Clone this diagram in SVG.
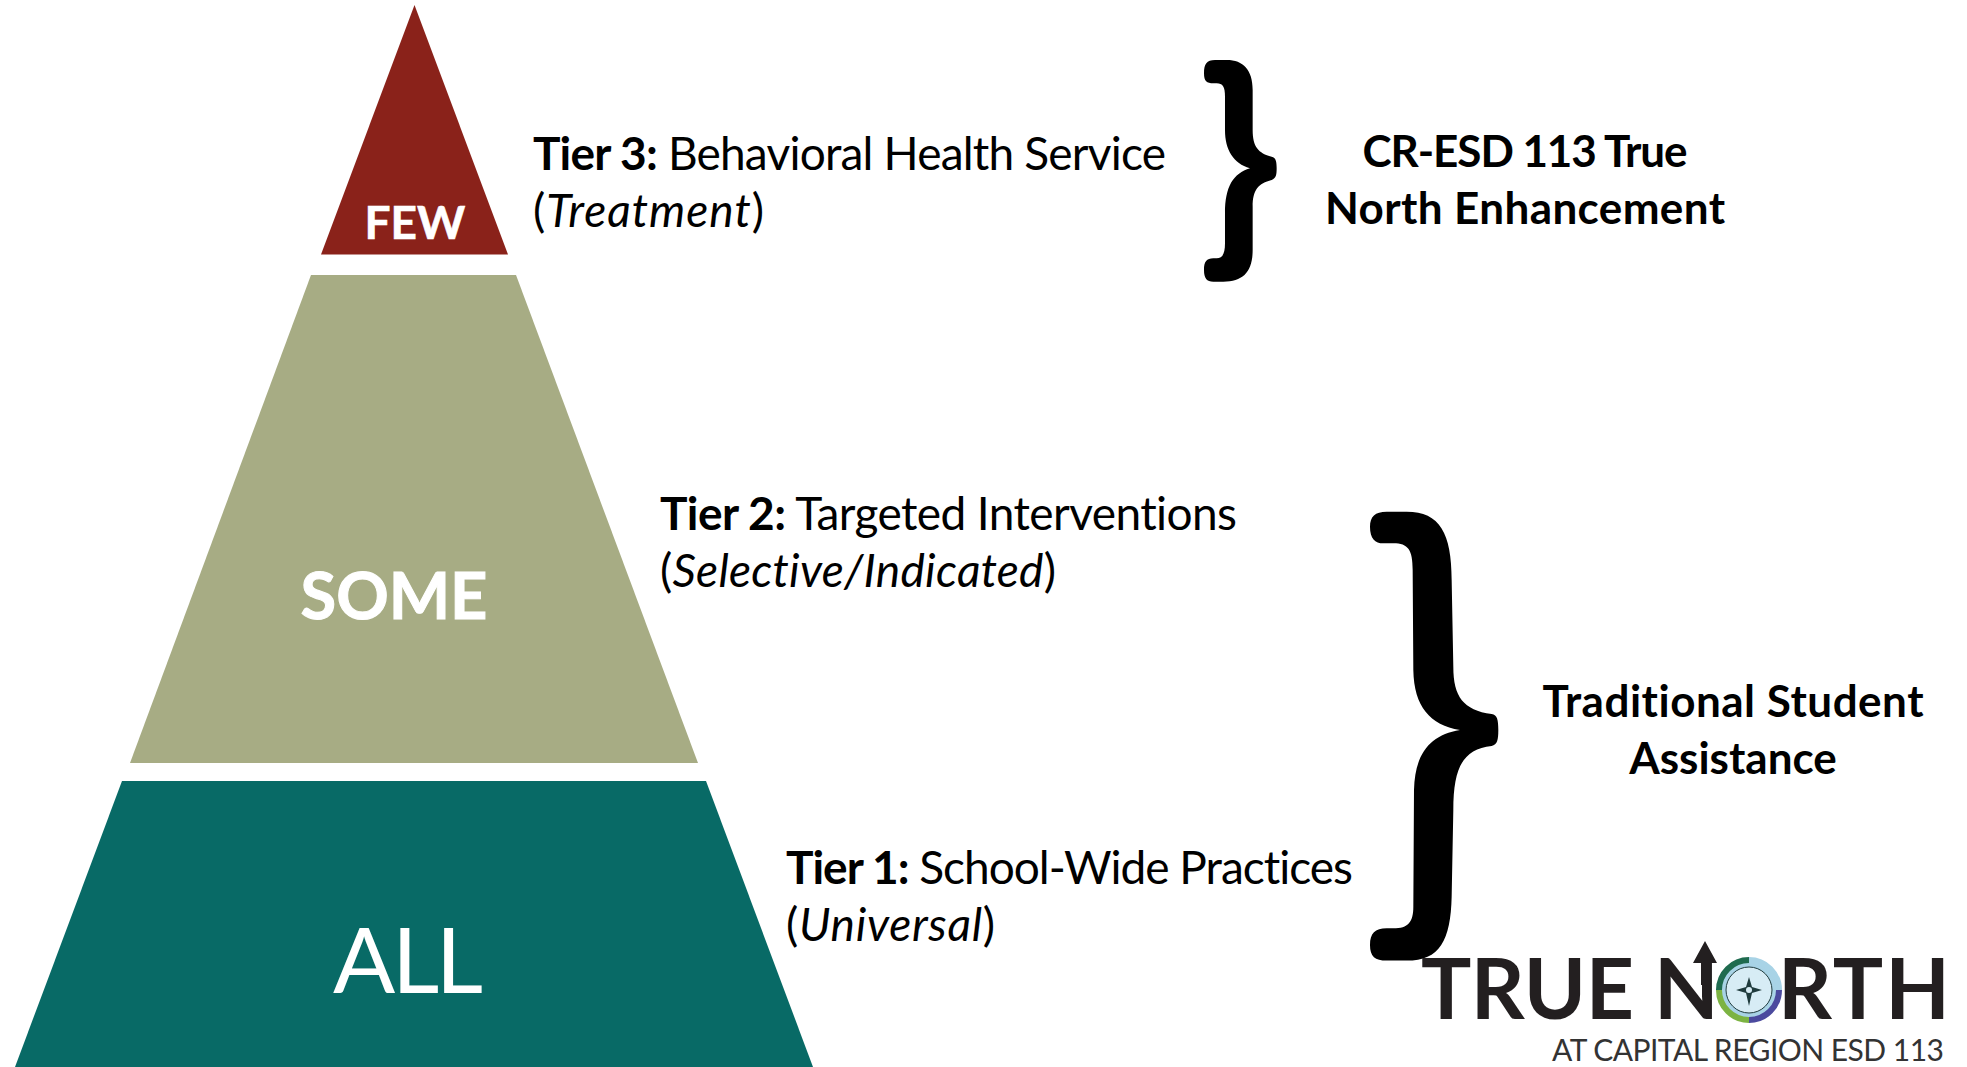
<svg xmlns="http://www.w3.org/2000/svg" width="1967" height="1067" viewBox="0 0 1967 1067">
<style>
text{font-family:"Lato","Open Sans","Liberation Sans",sans-serif;font-variant-ligatures:none}
.t{font-size:46px;fill:#000}
.b{font-weight:700}
.i{font-style:italic}
.h{font-size:44px;font-weight:700;fill:#000;text-anchor:middle}
.w{fill:#fff;text-anchor:middle}
.l{fill:#231f20;font-size:84px;font-weight:700}
</style>
<rect width="1967" height="1067" fill="#fff"/>
<g id="tier3"><polygon points="414.500,5 508,254.500 321,254.500" fill="#8a221a"/><text class="w b" x="415" y="239" font-size="46" stroke="#fff" stroke-width=".6">FEW</text></g>
<g id="tier2"><polygon points="311,275 516,275 698,763 130,763" fill="#a7ac84"/><text class="w b" x="394" y="619" font-size="65" stroke="#fff" stroke-width="1">SOME</text></g>
<g id="tier1"><polygon points="122,781 706,781 813,1067 15,1067" fill="#086a66"/><text class="w" x="408" y="993" font-size="92" textLength="150">ALL</text></g>
<g id="label3"><text class="t" x="533" y="170" textLength="633"><tspan class="b">Tier 3:</tspan> Behavioral Health Service</text><text class="t" x="533" y="227" textLength="231">(<tspan class="i">Treatment</tspan>)</text></g>
<g id="label2"><text class="t" x="660" y="530" textLength="577"><tspan class="b">Tier 2:</tspan> Targeted Interventions</text><text class="t" x="660" y="587" textLength="396">(<tspan class="i">Selective/Indicated</tspan>)</text></g>
<g id="label1"><text class="t" x="786" y="884" textLength="567"><tspan class="b">Tier 1:</tspan> School-Wide Practices</text><text class="t" x="786" y="941" textLength="209">(<tspan class="i">Universal</tspan>)</text></g>
<g id="brace-top"><path transform="translate(1180,40) scale(.3333)" d="M72 100C72 72 80 60 105 60H140C190 60 218 90 218 150V270C218 320 235 340 275 350C288 353 290 365 290 385C290 405 288 415 275 420C235 430 218 450 218 500V630C218 695 190 725 130 725H100C80 725 72 715 72 690C72 665 80 655 100 655H110C128 655 135 640 135 610V520C135 440 160 400 210 385C160 370 135 330 135 270V170C135 140 128 130 110 130H100C80 130 72 125 72 100Z" fill="#000"/></g>
<g id="brace-bottom"><path transform="translate(1350,490) scale(.3333)" d="M60 110C60 80 75 65 110 65H170C270 65 305 130 305 270L310 530C310 620 340 660 425 672C442 675 445 690 445 720C445 750 442 764 425 768C340 778 310 830 310 960L305 1220C302 1350 270 1412 170 1412H110C75 1412 60 1400 60 1365C60 1330 75 1315 110 1315H130C175 1315 190 1295 190 1250L192 900C195 790 240 735 330 720C240 705 192 650 190 540L188 240C188 180 175 160 130 160H100C75 160 60 145 60 110Z" fill="#000"/></g>
<g id="group-top"><text class="h" x="1525" y="167" textLength="325">CR-ESD 113 True</text><text class="h" x="1525" y="224" textLength="400">North Enhancement</text></g>
<g id="group-bottom"><text class="h" x="1733" y="717" textLength="381">Traditional Student</text><text class="h" x="1733" y="774">Assistance</text></g>
<g id="logo">
<text class="l" x="1421" y="1019" textLength="213">TRUE</text>
<text class="l" x="1654" y="1019" textLength="66">N</text>
<text class="l" x="1778" y="1019" textLength="172">RTH</text>
<path d="M1705 941L1693 963H1701V985H1710V963H1717Z" fill="#231f20"/>
<circle cx="1749" cy="990" r="26" fill="none" stroke="#a8d3e6" stroke-width="7"/>
<path d="M1749 960A30 30 0 0 0 1719 990" fill="none" stroke="#1f6b4f" stroke-width="6"/>
<path d="M1749 960A30 30 0 0 1 1779 990" fill="none" stroke="#a8d3e6" stroke-width="6"/>
<path d="M1779 990A30 30 0 0 1 1749 1020" fill="none" stroke="#4b4a9e" stroke-width="6"/>
<path d="M1749 1020A30 30 0 0 1 1719 990" fill="none" stroke="#7cb342" stroke-width="6"/>
<circle cx="1749" cy="990" r="23" fill="#d7ecf5" stroke="#1f3b3d" stroke-width="1"/>
<path d="M1749 977L1752 987L1762 990L1752 993L1749 1006L1746 993L1736 990L1746 987Z" fill="#1f3b3d"/>
<circle cx="1749" cy="990" r="3" fill="#d7ecf5"/>
<text x="1552" y="1061" font-size="30" fill="#333" textLength="392">AT CAPITAL REGION ESD 113</text>
</g>
</svg>
